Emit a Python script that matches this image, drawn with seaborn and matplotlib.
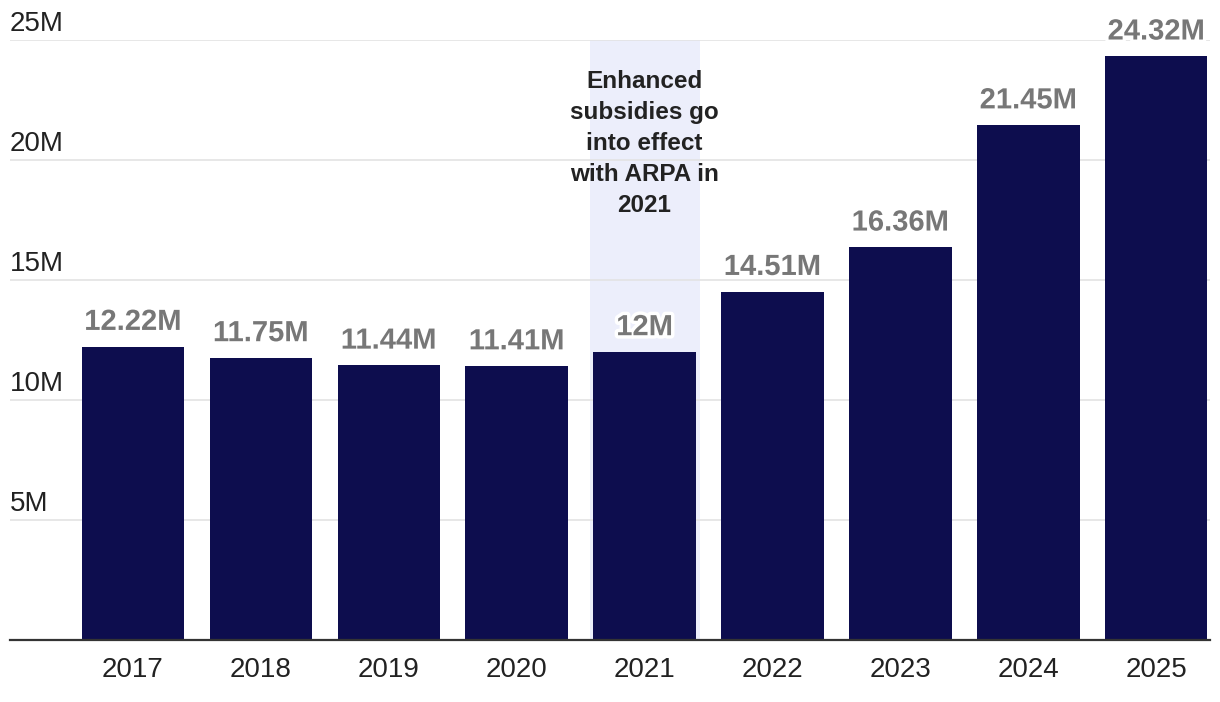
import matplotlib
matplotlib.use("Agg")
import matplotlib.pyplot as plt
import matplotlib.patheffects as pe
import seaborn as sns
import pandas as pd

# data
years = ["2017", "2018", "2019", "2020", "2021", "2022", "2023", "2024", "2025"]
enrollment = [12.22, 11.75, 11.44, 11.41, 12.0, 14.51, 16.36, 21.45, 24.32]  # millions
value_labels = ["12.22M", "11.75M", "11.44M", "11.41M", "12M", "14.51M", "16.36M", "21.45M", "24.32M"]
y_ticks = [5, 10, 15, 20, 25]
y_tick_labels = ["5M", "10M", "15M", "20M", "25M"]
note_year = "2021"
note_text = "Enhanced\nsubsidies go\ninto effect\nwith ARPA in\n2021"

df = pd.DataFrame({"year": years, "enrollment": enrollment})

sns.set_theme(style="white")
plt.rcParams["font.family"] = ["Liberation Sans", "DejaVu Sans"]

fig = plt.figure(figsize=(12.2, 7.02), dpi=100)
ax = fig.add_axes([10 / 1220, 62 / 702, 1200 / 1220, 600 / 702])

bar_color = "#0d0d4e"
sns.barplot(data=df, x="year", y="enrollment", color=bar_color, saturation=1,
            width=0.8, linewidth=0, ax=ax, zorder=2)

# highlight band behind the 2021 bar
note_i = years.index(note_year)
ax.axvspan(note_i - 0.43, note_i + 0.43, color="#eceefb", zorder=0, lw=0)

ax.set_xlim(-0.96, len(years) - 1 + 0.42)
ax.set_ylim(0, 25)

# gridlines and y labels sitting above them
for t, lab in zip(y_ticks, y_tick_labels):
    ax.axhline(t, color="#e3e3e3", lw=1.2, zorder=1)
    ax.text(0, t + 0.38, lab, transform=ax.get_yaxis_transform(), ha="left",
            va="baseline", fontsize=20, color="#222222")
ax.set_yticks([])

# value labels
for i, (v, lab) in enumerate(zip(enrollment, value_labels)):
    ax.text(i, v + 0.7, lab, ha="center", va="baseline", fontsize=21,
            fontweight="bold", color="#777777", clip_on=False, zorder=4,
            path_effects=[pe.withStroke(linewidth=5, foreground="white")])

ax.text(note_i, 20.7, note_text, ha="center", va="center", fontsize=17.5,
        fontweight="bold", color="#222222", linespacing=1.45, zorder=4)

for s in ["top", "right", "left"]:
    ax.spines[s].set_visible(False)
ax.spines["bottom"].set_color("#333333")
ax.spines["bottom"].set_linewidth(1.6)
ax.spines["bottom"].set_zorder(5)

ax.set_xlabel("")
ax.set_ylabel("")
ax.tick_params(axis="x", length=0, pad=12, labelsize=20, labelcolor="#222222")

fig.savefig("out.png", dpi=100)
